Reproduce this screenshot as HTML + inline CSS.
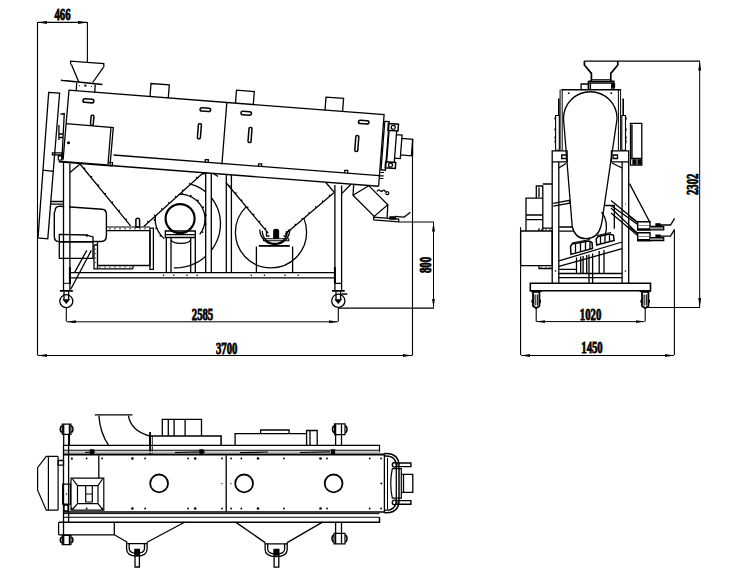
<!DOCTYPE html>
<html><head><meta charset="utf-8">
<style>
html,body{margin:0;padding:0;background:#fff;}
svg{display:block;}
</style></head>
<body>
<svg width="732" height="586" viewBox="0 0 732 586">
<defs>
<marker id="ar" viewBox="0 0 9 3" refX="9" refY="1.5" markerWidth="9" markerHeight="3" markerUnits="userSpaceOnUse" orient="auto-start-reverse"><path d="M0,0 L9,1.5 L0,3 z" fill="#000"/></marker>
<clipPath id="cf2"><path d="M200,151.5 L225.9,182.5 L268.2,233.2 L285.1,234.2 L333.9,192.8 L360,170.7 L360,300 L200,300 Z"/></clipPath>
<clipPath id="cm1"><path clip-rule="evenodd" d="M0,0 H732 V586 H0 Z M64.1,150 H69.2 V300 H64.1 Z"/></clipPath>
<clipPath id="cf1"><path d="M110,256.6 L240,139.6 L240,300 L110,300 Z"/></clipPath>
<clipPath id="cf3"><path clip-rule="evenodd" d="M110,256.6 L240,139.6 L240,300 L110,300 Z M205.7,100 H211.3 V300 H205.7 Z"/></clipPath>
</defs>
<rect width="732" height="586" fill="#fff"/>
<g fill="none" stroke="#000" stroke-width="1.3" stroke-linejoin="miter">
<path d="M37.5,22 V355.5 M87.4,22 V62" stroke-width="1.1"/>
<path d="M38,22.4 H87" marker-start="url(#ar)" marker-end="url(#ar)"/>
<path d="M412.5,156 V355.5 M66.3,307.5 V321.5 M338.3,307.5 V321.5" stroke-width="1.1"/>
<path d="M38,355.5 H412" marker-start="url(#ar)" marker-end="url(#ar)" stroke-width="1"/>
<path d="M66.8,321.8 H337.8" marker-start="url(#ar)" marker-end="url(#ar)" stroke-width="1"/>
<path d="M398.7,222 H434 M339,308.1 H434" stroke-width="1.1"/>
<path d="M433.5,222.5 V307.6" marker-start="url(#ar)" marker-end="url(#ar)" stroke-width="1"/>
<path d="M70.6,64.4 V61.1 L103.8,63.6 V67.3 M71.4,64.4 L78.8,82 M103.4,67.3 L92.7,82.5"/>
<path d="M61.6,79.5 V80.4 L102.5,84.5" stroke-width="1.6"/>
<path d="M76.7,83 L76.2,91 M95.2,84.6 L94.8,92.3"/>
<rect x="84.4" y="84.6" width="2" height="2" fill="#000" stroke="none"/>
<circle cx="79.5" cy="85.8" r="0.6" fill="#000" stroke="none"/><circle cx="91.5" cy="86.5" r="0.6" fill="#000" stroke="none"/>
<path d="M68.5,90.2 L384.1,114.7 L378.6,186.3"/>
<path d="M69,90.3 L66.1,123.7"/>
<path d="M226.8,102.8 L221.9,164.5"/>
<path d="M113.5,155 L379.3,175.6"/>
<path d="M58.7,161.5 L113.3,165.8" stroke-width="1.9"/>
<path d="M113.3,165.8 L378.6,186.3" stroke-width="1.4"/>
<path d="M150,96.5 L151,83.5 L169.3,84.9 L168.3,97.9"/>
<path d="M235.5,103.1 L236.5,90.1 L254.3,91.5 L253.3,104.5"/>
<path d="M325,110.1 L326,97.1 L343.6,98.4 L342.6,111.4"/>
<rect x="83" y="99" width="10.8" height="3.6" rx="1.7" stroke-width="1.6" transform="rotate(4.4 88.4 100.8)"/>
<rect x="200.1" y="108" width="10.5" height="3.3" rx="1.7" stroke-width="1.6" transform="rotate(4.4 205.3 109.7)"/>
<rect x="241" y="111.5" width="10.4" height="3.5" rx="1.7" stroke-width="1.6" transform="rotate(4.4 246.2 113.3)"/>
<rect x="358.5" y="120.5" width="10.4" height="3.3" rx="1.7" stroke-width="1.6" transform="rotate(4.4 363.7 122.2)"/>
<rect x="90.8" y="115.2" width="2.8" height="10" rx="1" stroke-width="1.5" transform="rotate(4.4 92.2 120.2)"/>
<rect x="197.9" y="123.7" width="3" height="15" rx="1" stroke-width="1.5" transform="rotate(4.4 199.4 131.2)"/>
<rect x="248.5" y="127.5" width="3" height="15" rx="1" stroke-width="1.5" transform="rotate(4.4 250 135)"/>
<rect x="355.3" y="135.6" width="3" height="15.8" rx="1" stroke-width="1.5" transform="rotate(4.4 356.8 143.5)"/>
<path d="M66.1,123.7 L113.3,127.5 L110.1,164.6 M111,127.3 L108,164.4 M66.1,123.7 L63.1,159.8 M64.3,112.9 L61.9,159.5"/>
<circle cx="68.5" cy="142.8" r="1.5" fill="#000" stroke="none"/>
<path d="M58.9,125 V140 M60.5,114 H64 M59,134 H63 M59,137.5 H63" stroke-width="1.3"/>
<path d="M52.4,152.9 H61.9 V154.8 H52.4 Z M58.3,155.8 H61.9 V160 H58.3 Z" stroke-width="1.2"/>
<path d="M108.2,162.5 H112.5 V165" stroke-width="1.2"/>
<path d="M48.7,92.3 L59.6,93.2 L47.8,238.8 L38,238 Z"/>
<path d="M42.9,170.2 L53.6,171.4"/>
<path d="M50.4,201.5 H63.7 M50.2,204.2 H63.7"/>
<path d="M63.5,161 V290 M69.9,163.5 V290"/>
<path d="M334.9,185 V290 M341.6,185.5 V290"/>
<path d="M334.9,267 V283.3 M69.9,267 V284" stroke-width="2"/>
<path d="M334.9,283.3 H341.3 M341.5,294 H347.3" stroke-width="1.3"/>
<path d="M63.5,283.3 H69.9" stroke-width="1"/>
<path d="M59.9,290.9 H72.9 M332,290.8 H344.7" stroke-width="1.7"/>
<path d="M64,291.5 V300 M68.6,291.5 V300 M336,291.5 V300 M340.6,291.5 V300"/>
<circle cx="66.3" cy="301.2" r="6.5"/><circle cx="338.3" cy="300.8" r="6.6"/>
<path d="M63.8,300 L66.3,303 L68.8,300 Z M335.8,300 L338.3,303 L340.8,300 Z" fill="#000"/>
<path d="M69.9,272.6 H334.9 M69.9,277.9 H334.9"/>
<path d="M70.9,289 L91.3,250.4 M74.5,272.6 L86.8,250.4"/>
<circle cx="163.5" cy="275.3" r="0.8" fill="#000" stroke="none"/>
<circle cx="173.8" cy="275.3" r="0.8" fill="#000" stroke="none"/>
<circle cx="186.9" cy="275.3" r="0.8" fill="#000" stroke="none"/>
<circle cx="197.2" cy="275.3" r="0.8" fill="#000" stroke="none"/>
<circle cx="251.3" cy="275.3" r="0.8" fill="#000" stroke="none"/>
<circle cx="264.4" cy="275.3" r="0.8" fill="#000" stroke="none"/>
<circle cx="285.1" cy="275.3" r="0.8" fill="#000" stroke="none"/>
<circle cx="298.2" cy="275.3" r="0.8" fill="#000" stroke="none"/>
<path d="M70,172.6 L80,164"/>
<path d="M80,164 L130.6,225.9 M143.8,226.4 L201.9,174"/>
<path d="M84,168.8 L85.2,167.8 M90.9,177.3 L92.1,176.3 M97.8,185.8 L99.1,184.8 M104.8,194.3 L106,193.3 M111.7,202.8 L112.9,201.8 M118.6,211.3 L119.8,210.3 M125.5,219.8 L126.8,218.7"/>
<path d="M148.4,222.2 L147.4,221 M155.4,215.9 L154.3,214.7 M162.4,209.6 L161.3,208.4 M169.4,203.3 L168.3,202.2 M176.3,197.1 L175.3,195.9 M183.3,190.8 L182.2,189.6 M190.3,184.5 L189.2,183.3 M197.3,178.2 L196.2,177"/>
<path d="M135.9,227 V220 Q135.9,218.2 137.7,218.2 Q139.6,218.2 139.6,220 V227 Z" stroke-width="1.5"/>
<path d="M225.9,182.5 L268.2,233.2 M285.1,234.2 L333.9,192.8"/>
<path d="M229.3,186.6 L230.5,185.5 M235.2,193.7 L236.4,192.6 M241.1,200.8 L242.4,199.7 M247.1,207.8 L248.3,206.8 M253,214.9 L254.2,213.9 M258.9,222 L260.1,221 M264.8,229.1 L266,228.1"/>
<path d="M289,230.9 L288,229.7 M295.8,225.1 L294.8,223.9 M302.7,219.3 L301.6,218.1 M309.5,213.5 L308.5,212.3 M316.3,207.7 L315.3,206.5 M323.2,201.9 L322.1,200.7 M330,196.1 L329,194.9"/>
<path d="M334.6,192.6 L325.6,182.2"/>
<path d="M273.8,238.8 V231 Q273.8,229.5 276.1,229.5 Q278.5,229.5 278.5,231 V238.8" fill="#000"/>
<path d="M263.5,238.8 H288.8 V240.7 H263.5 Z" stroke-width="1.1"/>
<path d="M259.8,229.5 A15,15 0 0 0 289.8,229.5 M262.3,231 A12.5,12.5 0 0 0 287.3,231"/>
<path d="M266.5,231 V236 H269.5 M283.5,236 H286.5 V231" stroke-width="1.3"/>
<path d="M54.9,212 Q54.9,206 60,206.2 L102,209.2 Q106.4,209.5 106.4,214 V236 Q106.4,241.5 101,241.5 H93 M58.4,241.5 Q54.3,241.5 54.3,236 V212" stroke-width="1.4" clip-path="url(#cm1)"/>
<path d="M59.3,234.4 L86,235 L93,237 V258.4 H59.3 Z"/>
<path d="M58.6,241.9 H93.2" stroke-width="1.7"/>
<circle cx="87" cy="235.5" r="1.3" fill="#000" stroke="none"/>
<path d="M106.4,230.6 H150 V265.5 H97.5 V242"/>
<path d="M94,245 V268.8 H133 M94,245 H97.5 M97.5,265.5 V268.8 M133,265.5 V268.8"/>
<path d="M106.4,227 L150,227" stroke-width="1.2"/>
<circle cx="110" cy="228.8" r="0.7" fill="#000" stroke="none"/>
<circle cx="115" cy="228.8" r="0.7" fill="#000" stroke="none"/>
<circle cx="120" cy="228.8" r="0.7" fill="#000" stroke="none"/>
<circle cx="125" cy="228.8" r="0.7" fill="#000" stroke="none"/>
<circle cx="130" cy="228.8" r="0.7" fill="#000" stroke="none"/>
<circle cx="135" cy="228.8" r="0.7" fill="#000" stroke="none"/>
<circle cx="140" cy="228.8" r="0.7" fill="#000" stroke="none"/>
<circle cx="145" cy="228.8" r="0.7" fill="#000" stroke="none"/>
<path d="M149.9,228.2 H153.4 V269.4 H149.9 Z"/>
<circle cx="95.7" cy="249" r="0.6" fill="#000" stroke="none"/>
<circle cx="95.7" cy="253.5" r="0.6" fill="#000" stroke="none"/>
<circle cx="95.7" cy="258" r="0.6" fill="#000" stroke="none"/>
<circle cx="95.7" cy="262.5" r="0.6" fill="#000" stroke="none"/>
<circle cx="100" cy="267.2" r="0.6" fill="#000" stroke="none"/>
<circle cx="105" cy="267.2" r="0.6" fill="#000" stroke="none"/>
<circle cx="110" cy="267.2" r="0.6" fill="#000" stroke="none"/>
<circle cx="115" cy="267.2" r="0.6" fill="#000" stroke="none"/>
<circle cx="120" cy="267.2" r="0.6" fill="#000" stroke="none"/>
<circle cx="125" cy="267.2" r="0.6" fill="#000" stroke="none"/>
<circle cx="130" cy="267.2" r="0.6" fill="#000" stroke="none"/>
<circle cx="180.1" cy="218.6" r="14.5" stroke-width="2.2"/>
<g clip-path="url(#cf1)">
<path d="M164.1,238.5 L162.4,236.9 L160.8,235.1 L159.4,233.2 L158.2,231.2 L157.2,229.1 L156.4,226.9 L155.8,224.6 L155.4,222.3 L155.2,220 L155.3,217.6 L155.5,215.3 L156,213 L156.7,210.8 L157.6,208.6 L158.7,206.5 L160,204.6 L161.5,202.8 L163.1,201.1 L164.9,199.6 L166.8,198.2 L168.8,197.1 L170.9,196.1 L173.1,195.3 L175.4,194.8 L177.7,194.4 L180,194.3 L182.3,194.4 L184.7,194.7 L186.9,195.2 L189.1,196 L191.2,196.9 L193.3,198 L195.2,199.4 L197,200.8 L198.6,202.5 L200.1,204.3 L201.4,206.2 L202.5,208.2 L203.4,210.4 L204.1,212.6 L204.6,214.8 L204.9,217.1 L205,219.4 L204.8,221.7 L204.5,224 L203.9,226.2 L203.2,228.4 L202.2,230.5 L201,232.5 L199.7,234.3"/>
<circle cx="160.5" cy="235.8" r="0.95" fill="#000" stroke="none"/>
<circle cx="156.2" cy="228.3" r="0.95" fill="#000" stroke="none"/>
<circle cx="154.5" cy="219.9" r="0.95" fill="#000" stroke="none"/>
<circle cx="155.7" cy="211.4" r="0.95" fill="#000" stroke="none"/>
<circle cx="159.7" cy="203.7" r="0.95" fill="#000" stroke="none"/>
<circle cx="165.9" cy="197.8" r="0.95" fill="#000" stroke="none"/>
<circle cx="173.8" cy="194.2" r="0.95" fill="#000" stroke="none"/>
<circle cx="182.4" cy="193.5" r="0.95" fill="#000" stroke="none"/>
<circle cx="190.7" cy="195.6" r="0.95" fill="#000" stroke="none"/>
<circle cx="197.9" cy="200.4" r="0.95" fill="#000" stroke="none"/>
<circle cx="203.1" cy="207.2" r="0.95" fill="#000" stroke="none"/>
<circle cx="205.8" cy="215.4" r="0.95" fill="#000" stroke="none"/>
<circle cx="205.6" cy="224" r="0.95" fill="#000" stroke="none"/>
<circle cx="202.6" cy="232.1" r="0.95" fill="#000" stroke="none"/>
<path d="M178,183 L180.5,182.9 L182.9,183 L185.4,183.2 L187.9,183.6 L190.3,184.1 L192.8,184.8 L195.1,185.7 L197.5,186.7 L199.8,187.9 L202,189.2 L204.1,190.7 L206.1,192.3 L208,194.1 L209.8,195.9 L211.5,197.9 L213.1,200.1 L214.6,202.3 L215.8,204.6 L217,207 L218,209.5 L218.8,212.1 L219.5,214.7 L220,217.4 L220.3,220.1 L220.5,222.9 L220.4,225.6 L220.2,228.4 L219.8,231.1 L219.3,233.9 L218.5,236.6 L217.6,239.2 L216.5,241.8 L215.2,244.3 L213.8,246.8 L212.2,249.2 L210.4,251.4 L208.5,253.6 L206.5,255.6 L204.3,257.6 L202,259.3 L199.5,261 L197,262.4 L194.3,263.7 L191.6,264.9 L188.8,265.8 L185.9,266.6 L182.9,267.2 L180,267.6 L176.9,267.8 L173.9,267.8" clip-path="url(#cf3)"/>
</g>
<path d="M165.3,231 H195.3 V237.5 H165.3 Z M165.3,234.7 H195.3 M166.3,237.5 V272.3 M171,237.5 V272.3 M190.7,237.5 V272.3 M195.3,237.5 V272.3"/>
<path d="M171,240 A10,4 0 0 0 190.7,240"/>
<path d="M205.7,172.9 V272.3 M211.3,173.4 V272.3 M226.3,174.5 V272.3 M231.4,174.9 V272.3"/>
<path d="M201.9,174 L207,173 M213,173.3 L218,176.5"/>
<circle cx="271" cy="232.3" r="35.6" clip-path="url(#cf2)"/>
<path d="M258.8,245.9 H289.8" stroke-width="1.8"/>
<path d="M256.4,246.4 V272.3 M292.6,246.4 V272.3"/>
<path d="M342,193.4 L351,184.2"/>
<path d="M353.7,184.4 L353,195.3 L374.2,216.4 L387.8,204.8 L368.7,185.6 M353,195.3 L368.7,185.7 M387.8,204.8 L387.1,217.8"/>
<path d="M373.5,217.1 L398.7,219.1 L398.7,221.9 L373.8,220 Z"/>
<path d="M394.6,216.4 L404.2,217.1 L410.4,212.3" stroke-width="1.3"/>
<path d="M390,216.8 H395.5 V219 H390 Z" fill="#000"/>
<path d="M377,191.5 Q378.5,189 380,190.5 Q381.5,192 383,190.5 Q384.5,189.5 385.5,192 M385.8,193.2 A1.5,1.5 0 1 0 388.8,193.2 A1.5,1.5 0 1 0 385.8,193.2" stroke-width="1.2"/>
<g transform="translate(384.3 114.6) rotate(4.42)">
<path d="M1,6.7 H5.4 V55.4 H1 Z"/>
<path d="M4.8,8.5 H14.9 V15.3 H4.8 Z M5,46.8 H15.1 V52.9 H5 Z" stroke-width="1.5"/>
<circle cx="9.9" cy="12" r="2"/><circle cx="10.1" cy="49.9" r="2"/>
<path d="M6,15.3 V46.8 M13.6,15.3 V46.8 M13.6,19 H19.3 V42.7 H13.6 M19.3,22.4 H30.2 V39 H19.3"/>
</g>
<path d="M412.6,139 V156"/>
<path d="M380.3,172.5 H384 M380,175.8 H383.7 M379.7,178.5 H383.4" stroke-width="1.2"/>
<path d="M205.3,162.2 v-2.6 h3 v2.6"/>
<path d="M258.6,166.4 v-2.6 h3 v2.6"/>
<path d="M344.7,173 v-2.6 h3 v2.6"/>
<path d="M584.3,61.1 H700" stroke-width="1.1"/>
<path d="M699.7,61.6 V307" marker-start="url(#ar)" marker-end="url(#ar)" stroke-width="1"/>
<path d="M646,307.5 H700" stroke-width="1.1"/>
<path d="M520.6,227.2 V355 M674.4,230 V355 M536.2,308 V321.5 M645.2,308 V321.5" stroke-width="1.1"/>
<path d="M521.1,355.5 H673.9" marker-start="url(#ar)" marker-end="url(#ar)" stroke-width="1"/>
<path d="M536.3,321.6 H644.5" marker-start="url(#ar)" marker-end="url(#ar)" stroke-width="1"/>
<path d="M584.4,61.1 V65 L591.4,73.4 V81.3 M617.8,61.1 V65 L610.8,73.4 V81.3" stroke-width="1.7"/>
<path d="M591.4,79.6 H610.8" stroke-width="0.9"/>
<path d="M588.3,81.3 H613.9 V89.5 M588.3,81.3 V89.5 M588.3,83 H613.9" stroke-width="1.4"/>
<path d="M590.3,83 V89.5 M611.8,83 V89.5" stroke-width="1.5"/>
<path d="M581.1,89.5 V84 H588.3"/>
<path d="M612.5,84 H614.5 V87 H612.5 Z" fill="#000"/>
<path d="M561.3,89.7 H621.1" stroke-width="1.5"/>
<path d="M560.1,89.7 V150.5 M562.2,89.7 V150.5 M618.4,89.7 V150.5 M620.6,89.7 V150.5" stroke-width="1"/>
<circle cx="568.7" cy="93.2" r="0.9" fill="#000" stroke="none"/><circle cx="611.3" cy="93.2" r="0.9" fill="#000" stroke="none"/>
<path d="M563.5,118.5 A26.8,26.8 0 0 1 617.1,118.5 L603.2,213.2 M563.5,118.5 L572.2,226.5 Q575,239 586.6,238.7 Q598,238 601,226 Q602.5,220 603.2,213.2"/>
<path d="M601.6,212 Q609,222 605.2,235.3"/>
<path d="M558.8,98.6 V115.5 M623.2,98.6 V115.5" stroke-width="1.6"/>
<path d="M555.6,115.5 H559.3 V150.3 H555.6 Z M621.8,115.5 H625.5 V150.3 H621.8 Z" stroke-width="1.1"/>
<path d="M555.6,117 q-1.2,1.5 0,3 M625.5,117 q1.2,1.5 0,3" stroke-width="1.3"/>
<path d="M555.6,128 q-1.2,1.5 0,3 M625.5,128 q1.2,1.5 0,3" stroke-width="1.3"/>
<path d="M555.6,136 q-1.2,1.5 0,3 M625.5,136 q1.2,1.5 0,3" stroke-width="1.3"/>
<path d="M555.6,140 q-1.2,1.5 0,3 M625.5,140 q1.2,1.5 0,3" stroke-width="1.3"/>
<path d="M552.2,150.8 H567.1 V161.9 H552.2 Z M611.4,150.8 H628.7 V161.9 H611.4 Z" stroke-width="1.3"/>
<path d="M561.7,155 H566.5 V158.5 H561.7 Z M613,155 H617.5 V158.5 H613 Z"/>
<path d="M552.2,161.9 V283 M558.8,161.9 V283 M622.1,161.9 V283 M628.7,161.9 V283"/>
<path d="M558.8,168 L566,163.5 M622.1,168 L612,163"/>
<circle cx="555.5" cy="271" r="0.8" fill="#000" stroke="none"/><circle cx="625.4" cy="271" r="0.8" fill="#000" stroke="none"/><circle cx="625.4" cy="204" r="0.6" fill="#000" stroke="none"/>
<path d="M630.5,123.3 H641.8 V165.1 H630.5 Z M632,124.5 V158.5 M630.5,158.5 H641.8"/>
<path d="M633,160 H636 V164 H633 Z M638,160 H641 V164 H638 Z" fill="#000"/>
<path d="M536.3,198.1 V186 H542.8 V198.1 M539,187.5 V197 M526,231 V198.1 H542.8 V231 M526,215 H542.8 M526,219.7 H542.8 M542.8,184 H552.2 M542.8,228.2 H552.2"/>
<path d="M520.6,231 H552.2 V265.7 H520.6 Z M539,228.2 V231 M539,265.7 V268.5 H552.2"/>
<circle cx="541.5" cy="229.6" r="0.6" fill="#000" stroke="none"/><circle cx="541.5" cy="267.1" r="0.6" fill="#000" stroke="none"/>
<circle cx="546" cy="229.6" r="0.6" fill="#000" stroke="none"/><circle cx="546" cy="267.1" r="0.6" fill="#000" stroke="none"/>
<circle cx="550" cy="229.6" r="0.6" fill="#000" stroke="none"/><circle cx="550" cy="267.1" r="0.6" fill="#000" stroke="none"/>
<path d="M553.3,203.3 L569.6,200.3 L569.6,203.2 L553.3,206.2"/>
<path d="M558.9,260.9 L622.1,242 M558.9,266.4 L622.1,248.7" stroke-width="1.3"/>
<path d="M570.5,246.5 L571,254.4 L592.5,248.5 L592,242.5 L589,241 L572,244 Z M596.2,239 L596.7,245 L614.1,240.5 L613.5,235.3 L610,234 L598,236.5 Z" stroke-width="1.5"/>
<path d="M575.5,244 V253 M580.5,243 V251.5 M585.5,242 V250 M590,241.5 V249 M600.5,236 V244 M605,235.5 V243 M609.5,234.5 V242"/>
<path d="M572,243 L590,239.5 M597,235.5 L611,232.5" stroke-width="1.2"/>
<path d="M576.5,257.5 V273.5 M580.7,256.5 V273.5 M583.1,256 V273.5 M586.7,255 V273.5 M599.2,251 V273.5 M604,250 V273.5"/>
<path d="M589,254.5 V283 M592.6,253.5 V283"/>
<path d="M559.2,227 H572.9 M559.2,231.1 H572.9 M559.2,269.4 H576.5"/>
<path d="M558.8,273.5 H622.1 M558.8,277.7 H622.1"/>
<path d="M604.3,205.5 H614.3 V228.7"/>
<path d="M629.5,183.6 L650,222.5 M611,200.5 L637.7,222.5 M611,205.5 L637.7,224.5 M611,208 L637.7,233.4 M611,213 L637.7,235.5"/>
<path d="M629.5,216.4 L637.7,222.5 M629.5,227.3 L637.7,233.4"/>
<path d="M637.7,221.8 H650 V230 H637.7 Z M637.7,232.8 H650 V240.9 H637.7 Z" stroke-width="1.4"/>
<path d="M638.5,225.5 H649.2 M638.5,236.5 H649.2" stroke-width="1.2" stroke="#888"/>
<path d="M637.7,229.2 H650 M637.7,240.1 H650" stroke-width="2"/>
<path d="M650,226.5 H663.7 V229.8 H650 M650,237.6 H663.7 V240.6 H650" stroke-width="1.3" fill="#999"/>
<path d="M656.8,225 H670.5 L674.6,218.4 M656.8,236.2 H670.5 L674.6,229.3" stroke-width="1.3"/>
<path d="M656,223.8 H660 V226 H656 Z M656,235.2 H660 V237.4 H656 Z" fill="#000"/>
<path d="M530.3,283.3 H650.5 V290.8 H530.3 Z" stroke-width="1.6"/>
<path d="M533.0,291.8 H539.4000000000001 V306 L536.2,308.2 L533.0,306 Z" stroke-width="1.8"/>
<path d="M535.1,294.5 V305.5 M537.3000000000001,294.5 V305.5" stroke-width="1.1"/>
<path d="M533.0,299.5 Q531.4000000000001,301.2 533.0,303 M539.4000000000001,299.5 Q541.0,301.2 539.4000000000001,303" stroke-width="1.8"/>
<path d="M530.7,291.2 H541.7" stroke-width="1.8"/>
<path d="M642.0,291.8 H648.4000000000001 V306 L645.2,308.2 L642.0,306 Z" stroke-width="1.8"/>
<path d="M644.1,294.5 V305.5 M646.3000000000001,294.5 V305.5" stroke-width="1.1"/>
<path d="M642.0,299.5 Q640.4000000000001,301.2 642.0,303 M648.4000000000001,299.5 Q650.0,301.2 648.4000000000001,303" stroke-width="1.8"/>
<path d="M639.7,291.2 H650.7" stroke-width="1.8"/>
<path d="M94.8,414.8 H132.5" stroke-width="1.3"/>
<path d="M98.9,415.6 Q100,433 108.7,445.4 M128.4,415.6 Q131,431 149.8,436"/>
<path d="M162.3,435.9 V419.3 H201.5 V435.9 M168.3,419.3 V435.9 M174.1,419.3 V435.9 M185.1,419.3 V435.9"/>
<path d="M149.8,445.1 V435.9 H221.1 V445.1" stroke-width="1.5"/>
<path d="M150.1,432 V455" stroke-width="1.8"/>
<path d="M152.3,436 V455" stroke-width="0.9"/>
<path d="M235.1,445.1 V433.6 H306.6 V445.1 M260.6,433.6 V430 H289.1 V433.6 M306.6,445.2 V430.5 H317.2 V445.2 M310,431 V445"/>
<path d="M63.7,445.3 H379.5 V452.6" stroke-width="1.2"/>
<path d="M63.7,450.3 H379.5" stroke-width="1.1"/>
<rect x="63.7" y="451.3" width="315.8" height="1.7" fill="#bbb" stroke="none"/>
<path d="M63.7,454.5 H384.4" stroke-width="1.8"/>
<path d="M85,452.5 L95,451.8 M175,452.5 L205,451.8 M240,452.7 L268,452 M300,452.5 L330,451.8" stroke-width="1.2"/>
<path d="M90.5,450 h3 v4 h-3 Z" fill="#000"/>
<path d="M200,450 h3 v4 h-3 Z" fill="#000"/>
<path d="M331.5,450 h3 v4 h-3 Z" fill="#000"/>
<path d="M63.5,445.1 V522.5 M68.6,434.3 V522.5 M384.4,453.4 V512.8"/>
<path d="M98.8,455.3 V478.2"/>
<path d="M63.7,512 H384.4" stroke-width="1.4"/>
<path d="M63.7,513.6 H379.5" stroke-width="1"/>
<path d="M63.7,517.3 H379.5" stroke-width="1.1"/>
<path d="M226.2,455.3 V512"/>
<path d="M58.6,522.2 H379.5 V517.3" stroke-width="1.5"/>
<path d="M58.6,534.8 H114.3 M58.6,522.5 V534.8 M114.3,522.5 V534.8 M63.5,522.5 V534.8"/>
<circle cx="71.8" cy="458.5" r="0.9" fill="#000" stroke="none"/>
<circle cx="71.8" cy="508.5" r="0.9" fill="#000" stroke="none"/>
<circle cx="86.6" cy="458.5" r="0.9" fill="#000" stroke="none"/>
<circle cx="86.6" cy="508.5" r="0.9" fill="#000" stroke="none"/>
<circle cx="102.1" cy="458.5" r="0.9" fill="#000" stroke="none"/>
<circle cx="102.1" cy="508.5" r="0.9" fill="#000" stroke="none"/>
<circle cx="132.4" cy="458.5" r="1.3" fill="#000" stroke="none"/>
<circle cx="132.4" cy="508.5" r="1.3" fill="#000" stroke="none"/>
<circle cx="145.1" cy="458.5" r="0.9" fill="#000" stroke="none"/>
<circle cx="145.1" cy="508.5" r="0.9" fill="#000" stroke="none"/>
<circle cx="188.1" cy="458.5" r="0.9" fill="#000" stroke="none"/>
<circle cx="188.1" cy="508.5" r="0.9" fill="#000" stroke="none"/>
<circle cx="195.2" cy="458.5" r="1.3" fill="#000" stroke="none"/>
<circle cx="195.2" cy="508.5" r="1.3" fill="#000" stroke="none"/>
<circle cx="222" cy="458.5" r="0.9" fill="#000" stroke="none"/>
<circle cx="222" cy="508.5" r="0.9" fill="#000" stroke="none"/>
<circle cx="231.1" cy="458.5" r="0.9" fill="#000" stroke="none"/>
<circle cx="231.1" cy="508.5" r="0.9" fill="#000" stroke="none"/>
<circle cx="241.3" cy="458.5" r="0.9" fill="#000" stroke="none"/>
<circle cx="241.3" cy="508.5" r="0.9" fill="#000" stroke="none"/>
<circle cx="258" cy="458.5" r="1.3" fill="#000" stroke="none"/>
<circle cx="258" cy="508.5" r="1.3" fill="#000" stroke="none"/>
<circle cx="283.9" cy="458.5" r="0.9" fill="#000" stroke="none"/>
<circle cx="283.9" cy="508.5" r="0.9" fill="#000" stroke="none"/>
<circle cx="320.5" cy="458.5" r="1.3" fill="#000" stroke="none"/>
<circle cx="320.5" cy="508.5" r="1.3" fill="#000" stroke="none"/>
<circle cx="327" cy="458.5" r="0.9" fill="#000" stroke="none"/>
<circle cx="327" cy="508.5" r="0.9" fill="#000" stroke="none"/>
<circle cx="369.7" cy="458.5" r="0.9" fill="#000" stroke="none"/>
<circle cx="369.7" cy="508.5" r="0.9" fill="#000" stroke="none"/>
<circle cx="381.1" cy="458.5" r="0.9" fill="#000" stroke="none"/>
<circle cx="381.1" cy="508.5" r="0.9" fill="#000" stroke="none"/>
<circle cx="222" cy="483.6" r="0.7" fill="#000" stroke="none"/>
<circle cx="231" cy="483.6" r="0.7" fill="#000" stroke="none"/>
<circle cx="381.1" cy="483.6" r="0.7" fill="#000" stroke="none"/>
<circle cx="71.9" cy="458.7" r="0.9" fill="#000" stroke="none"/>
<path d="M62.3,424.1 H70.9 V434.3 H62.3 Z" stroke-width="1.2"/>
<path d="M62.3,426.1 Q60.3,426.1 60.3,429.20000000000005 Q60.3,432.3 62.3,432.3 M70.9,426.1 Q72.9,426.1 72.9,429.20000000000005 Q72.9,432.3 70.9,432.3" stroke-width="1.5"/>
<path d="M63.7,424.6 V445.1 M69.4,424.6 V445.1"/>
<path d="M334.5,423.9 H345.0 V434.6 H334.5 Z" stroke-width="1.2"/>
<path d="M334.5,425.9 Q332.5,425.9 332.5,429.25 Q332.5,432.6 334.5,432.6 M345.0,425.9 Q347.0,425.9 347.0,429.25 Q347.0,432.6 345.0,432.6" stroke-width="1.5"/>
<path d="M335.6,424.2 V445.2 M341.5,424.2 V445.2"/>
<path d="M62.3,535.3 H70.9 V544.6 H62.3 Z" stroke-width="1.2"/>
<path d="M62.3,537.3 Q60.3,537.3 60.3,539.95 Q60.3,542.6 62.3,542.6 M70.9,537.3 Q72.9,537.3 72.9,539.95 Q72.9,542.6 70.9,542.6" stroke-width="1.5"/>
<path d="M63.7,534.8 V544.6 M69.4,534.8 V544.6"/>
<path d="M334.0,533.3 H345.0 V543.9 H334.0 Z" stroke-width="1.2"/>
<path d="M334.0,535.3 Q332.0,535.3 332.0,538.5999999999999 Q332.0,541.9 334.0,541.9 M345.0,535.3 Q347.0,535.3 347.0,538.5999999999999 Q347.0,541.9 345.0,541.9" stroke-width="1.5"/>
<path d="M335.6,522.6 V543.9 M341.5,522.6 V543.9"/>
<circle cx="159.1" cy="483.4" r="8.9" stroke-width="1.8"/>
<circle cx="244.1" cy="483.4" r="8.9" stroke-width="1.8"/>
<circle cx="333.6" cy="483.4" r="8.9" stroke-width="1.8"/>
<path d="M58.1,456.4 H46.3 L37.6,467.6 V490.2 L46.3,510.2 H58.1 M48.4,456.4 V510.2 M58.1,456.4 V510.2" stroke-width="1.2"/>
<path d="M58.1,460.5 H63.5 V465.1 H58.1 Z M62.7,484.1 H70.4 V504.1 H62.7 Z M64,505 H68 V511 H64 Z"/>
<circle cx="66.5" cy="494" r="0.7" fill="#000" stroke="none"/>
<path d="M71,478.2 H103.8 V510.2 H71 Z M72.5,479 L77.5,485.6 H98 L102.5,479 M72.5,509.5 L77.5,503.6 H98 L102.5,509.5 M77.5,485.6 V503.6 M98,485.6 V503.6 M85.7,485.6 V502 H92.3 V485.6 M85.7,494 H92.3" stroke-width="1.2"/>
<path d="M114.3,534.8 L127.3,542.3 M147.1,542.3 L184,522.5 M127.3,543.7 H147.1"/>
<path d="M126.6,542.3 V549 Q126.6,556 136.9,556 Q147.1,556 147.1,549 V542.3 M129.2,543.5 V548.5 Q129.2,553.3 136.9,553.3 Q144.5,553.3 144.5,548.5 V543.5"/>
<path d="M135,549.5 H139.4 V567 H135 Z" stroke-width="1.3"/>
<path d="M135.3,550 H139.1 V555 H135.3 Z" fill="#000"/>
<path d="M235.6,522.1 L265.1,542.6 M322.5,522.1 L287.2,542.6 M265.1,543.8 H287.2"/>
<path d="M265.1,542.6 V549.5 Q265.1,556.6 276.2,556.6 Q287.2,556.6 287.2,549.5 V542.6 M267.7,543.5 V549 Q267.7,554 276.2,554 Q284.6,554 284.6,549 V543.5"/>
<path d="M274.1,549.5 H278.8 V567.2 H274.1 Z" stroke-width="1.3"/>
<path d="M274.4,550 H278.5 V555 H274.4 Z" fill="#000"/>
<path d="M384.4,453.4 H386 Q399,453.4 399,466 V500.6 Q399,512.8 386,512.8 H384.4" stroke-width="1.5"/>
<path d="M384.4,456 H386 Q396.3,456 396.3,466 V500.6 Q396.3,510.2 386,510.2 H384.4"/>
<path d="M387.5,458 V509" stroke-width="1"/>
<path d="M392.3,468.7 H401.3 V498.1 H392.3 Q389.2,483.4 392.3,468.7 Z" stroke-width="1.2"/>
<path d="M401.3,474.4 H412.8 V492.3 H401.3 M403.5,474.4 V492.3"/>
<circle cx="394.6" cy="464.8" r="2.3" stroke-width="1.4"/><circle cx="394.6" cy="502.4" r="2.3" stroke-width="1.4"/>
<path d="M397,463 H410.9 V466.6 H397 M397,500.6 H410.9 V504.2 H397" stroke-width="1.4"/>
<circle cx="381.5" cy="483.4" r="0.9" fill="#000" stroke="none"/>
</g>
<g fill="#000" stroke="#000" stroke-width="0.85" font-family="'Liberation Serif', serif" font-weight="bold">
<text transform="translate(62.5 20.2) scale(0.66 1)" font-size="16.3" text-anchor="middle">466</text>
<text transform="translate(202.5 319.7) scale(0.66 1)" font-size="16.3" text-anchor="middle">2585</text>
<text transform="translate(226.7 353.8) scale(0.66 1)" font-size="16.3" text-anchor="middle">3700</text>
<text transform="translate(590.6 319.7) scale(0.66 1)" font-size="16.3" text-anchor="middle">1020</text>
<text transform="translate(592 352.7) scale(0.66 1)" font-size="16.3" text-anchor="middle">1450</text>
<text transform="translate(430.7 265) rotate(-90) scale(0.66 1)" font-size="16.3" text-anchor="middle">800</text>
<text transform="translate(697.7 184.3) rotate(-90) scale(0.66 1)" font-size="16.3" text-anchor="middle">2302</text>
</g>
</svg>
</body></html>
